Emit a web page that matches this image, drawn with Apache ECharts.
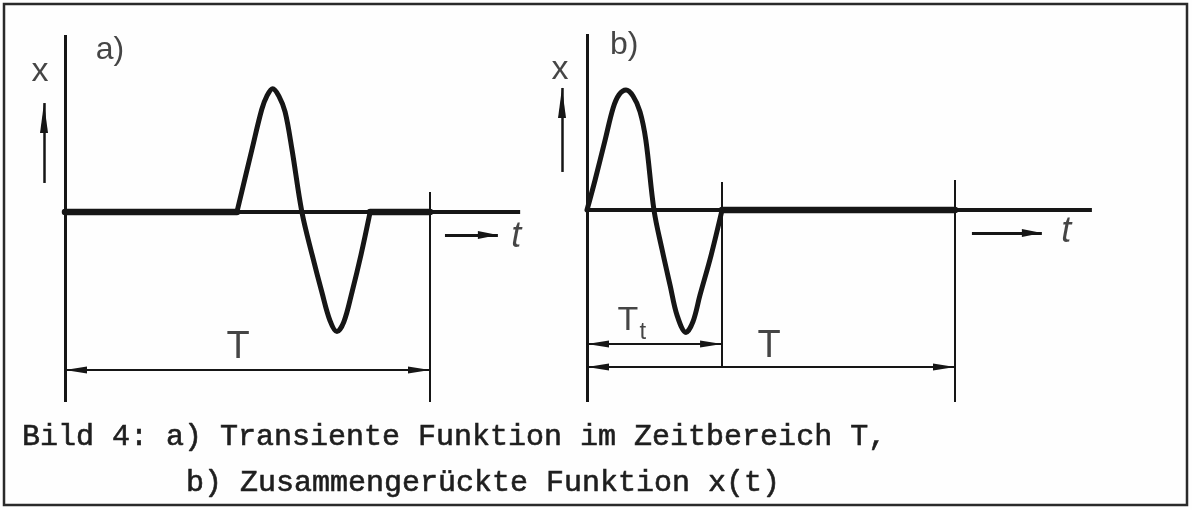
<!DOCTYPE html>
<html>
<head>
<meta charset="utf-8">
<script src="https://cdn.jsdelivr.net/npm/echarts@6/dist/echarts.min.js"></script>
<style>
  html, body { margin: 0; padding: 0; background: #fefefe; }
  #chart { width: 1192px; height: 510px; }
</style>
</head>
<body>
<div id="chart"></div>
<script>
// Time window T (time in % of T), pulse amplitude about 10
const T = 100;

// a) transient pulse somewhere inside the window T
const pulseA = [
  [47.1, 0], [51.2, 5.1], [53.9, 8.4], [55.3, 9.5], [56.9, 10.1], [58.6, 9.5],
  [60.3, 8.2], [62.2, 5.1], [64.9, 0], [67.7, -3.5], [70.4, -6.6], [72.6, -8.9],
  [74.5, -9.8], [76.4, -9.0], [78.6, -6.6], [81.1, -3.5], [83.6, 0]
];
// b) the same pulse moved up to t = 0, it lasts T_t
const pulseB = [
  [0, 0], [2.2, 2.5], [4.9, 5.8], [7.1, 8.5], [8.7, 9.6], [10.6, 10.0], [12.5, 9.5],
  [14.4, 8.2], [16.0, 5.8], [18.2, 0], [20.4, -3.3], [22.6, -6.3], [24.5, -8.8],
  [26.9, -10.2], [28.8, -9.3], [30.7, -7.1], [33.7, -3.8], [36.7, 0]
];
const Tt = 36.7;

// zero stretches of x(t) inside T
const zeroA = [[[0, 0], [47.1, 0]], [[83.6, 0], [T, 0]]];
const zeroB = [[[Tt, 0], [T, 0]]];

// length of the drawn time axes
const tEndA = 124.7;
const tEndB = 137.2;

const captionLine1 = 'Bild 4: a) Transiente Funktion im Zeitbereich T,';
const captionLine2 = 'b) Zusammengerückte Funktion x(t)';

// ---------------------------------------------------------------
const ink = '#161616';
const letterFont = 'Liberation Sans';

// grid placed so that origin, px per time unit and px per x unit are fixed
function panelGrid(ox, oy, pxT, pxX, tMin, tMax, xMin, xMax) {
  return {
    left: ox + tMin * pxT,
    width: (tMax - tMin) * pxT,
    top: oy - xMax * pxX,
    height: (xMax - xMin) * pxX
  };
}

const axesA = { tMin: -12, tMax: 130, xMin: -17, xMax: 15.5 };
const axesB = { tMin: -12, tMax: 140, xMin: -17, xMax: 15.5 };

function curve(data, idx, width, smooth) {
  return {
    type: 'line', xAxisIndex: idx, yAxisIndex: idx, data: data,
    symbol: 'none', smooth: smooth || false, silent: true, z: 4,
    lineStyle: { color: ink, width: width, cap: 'round', join: 'round' }
  };
}

// straight piece for markLine; head = [width, length] of a filled arrow head
function seg(from, to, width, headFrom, headTo) {
  const end = (c, h) => h
    ? { coord: c, symbol: 'triangle', symbolSize: [h[0], h[1]], symbolOffset: [0, h[1] / 2] }
    : { coord: c, symbol: 'none' };
  const a = end(from, headFrom);
  a.lineStyle = { color: ink, width: width, type: 'solid', cap: 'butt' };
  return [a, end(to, headTo)];
}

function frame(idx, tEnd, segs) {
  return {
    type: 'line', xAxisIndex: idx, yAxisIndex: idx,
    data: [[0, 0], [tEnd, 0]],
    symbol: 'none', silent: true, z: 3,
    lineStyle: { color: ink, width: 4 },
    markLine: {
      silent: true, animation: false, symbol: 'none',
      label: { show: false },
      lineStyle: { color: ink, type: 'solid' },
      itemStyle: { color: ink },
      emphasis: { disabled: true },
      data: segs
    }
  };
}

function texts(idx, items) {
  return {
    type: 'scatter', xAxisIndex: idx, yAxisIndex: idx, silent: true, z: 6,
    symbolSize: 1, itemStyle: { color: 'rgba(0,0,0,0)' },
    label: {
      show: true, position: 'inside', formatter: '{b}',
      color: ink, fontFamily: letterFont, fontSize: 36
    },
    data: items
  };
}

const head = [7, 22];
const upHead = [8, 30];
const tHead = [8, 20];

const series = [
  // ---- panel a)
  frame(0, tEndA, [
    seg([0, 14.5], [0, -15.57], 3),
    seg([T, 1.64], [T, -15.57], 2),
    seg([0, -12.95], [T, -12.95], 2, head, head),
    seg([104.1, -1.89], [118.6, -1.89], 3, null, tHead),
    seg([-5.75, 2.38], [-5.75, 8.93], 2.5, null, upHead)
  ]),
  ...zeroA.map(z => curve(z, 0, 6.5)),
  curve(pulseA, 0, 5, 0.35),
  texts(0, [
    { name: 'a)', value: [12.3, 13.3], label: { fontSize: 32 } },
    { name: 'x', value: [-6.85, 11.5], label: { fontSize: 34 } },
    { name: 'T', value: [47.4, -11.07], label: { fontSize: 38 } },
    { name: 't', value: [123.6, -2.05], label: { fontSize: 36, fontStyle: 'italic' } }
  ]),
  // ---- panel b)
  frame(1, tEndB, [
    seg([0, 14.67], [0, -16], 3),
    seg([Tt, 2.33], [Tt, -13.08], 2),
    seg([T, 2.5], [T, -16], 2),
    seg([0, -11.17], [Tt, -11.17], 2, head, head),
    seg([0, -13.08], [T, -13.08], 2, head, head),
    seg([104.6, -1.92], [123.6, -1.92], 3, null, tHead),
    seg([-6.79, 3.17], [-6.79, 10.17], 2.5, null, upHead)
  ]),
  ...zeroB.map(z => curve(z, 1, 6.5)),
  curve(pulseB, 1, 5, 0.35),
  texts(1, [
    { name: 'b)', value: [10.1, 13.7], label: { fontSize: 32 } },
    { name: 'x', value: [-7.34, 11.67], label: { fontSize: 34 } },
    { name: 'T', value: [11.1, -9.2], label: { fontSize: 34 } },
    { name: 't', value: [15.2, -10.2], label: { fontSize: 24 } },
    { name: 'T', value: [49.5, -11.4], label: { fontSize: 38 } },
    { name: 't', value: [130.2, -1.83], label: { fontSize: 36, fontStyle: 'italic' } }
  ])
];

// typewriter caption
const captionStyle = {
  fontFamily: 'Liberation Mono', fontSize: 30, fontWeight: 'normal',
  color: '#1e1e1e', textBorderColor: '#1e1e1e', textBorderWidth: 0.6
};

const option = {
  backgroundColor: '#fefefe',
  animation: false,
  title: [
    { text: captionLine1, left: 22, top: 422, padding: 0, textStyle: captionStyle },
    { text: captionLine2, left: 186, top: 468, padding: 0, textStyle: captionStyle }
  ],
  graphic: [{
    type: 'rect', silent: true, z: 10,
    shape: { x: 4, y: 4, width: 1183, height: 501 },
    style: { fill: 'transparent', stroke: '#2a2a2a', lineWidth: 2.5 }
  }],
  grid: [
    panelGrid(65, 212, 3.65, 12.2, axesA.tMin, axesA.tMax, axesA.xMin, axesA.xMax),
    panelGrid(587, 210, 3.68, 12, axesB.tMin, axesB.tMax, axesB.xMin, axesB.xMax)
  ],
  xAxis: [
    { type: 'value', gridIndex: 0, min: axesA.tMin, max: axesA.tMax, show: false },
    { type: 'value', gridIndex: 1, min: axesB.tMin, max: axesB.tMax, show: false }
  ],
  yAxis: [
    { type: 'value', gridIndex: 0, min: axesA.xMin, max: axesA.xMax, show: false },
    { type: 'value', gridIndex: 1, min: axesB.xMin, max: axesB.xMax, show: false }
  ],
  series: series
};

const chart = echarts.init(document.getElementById('chart'), null, { renderer: 'canvas' });
chart.setOption(option);
</script>
</body>
</html>
